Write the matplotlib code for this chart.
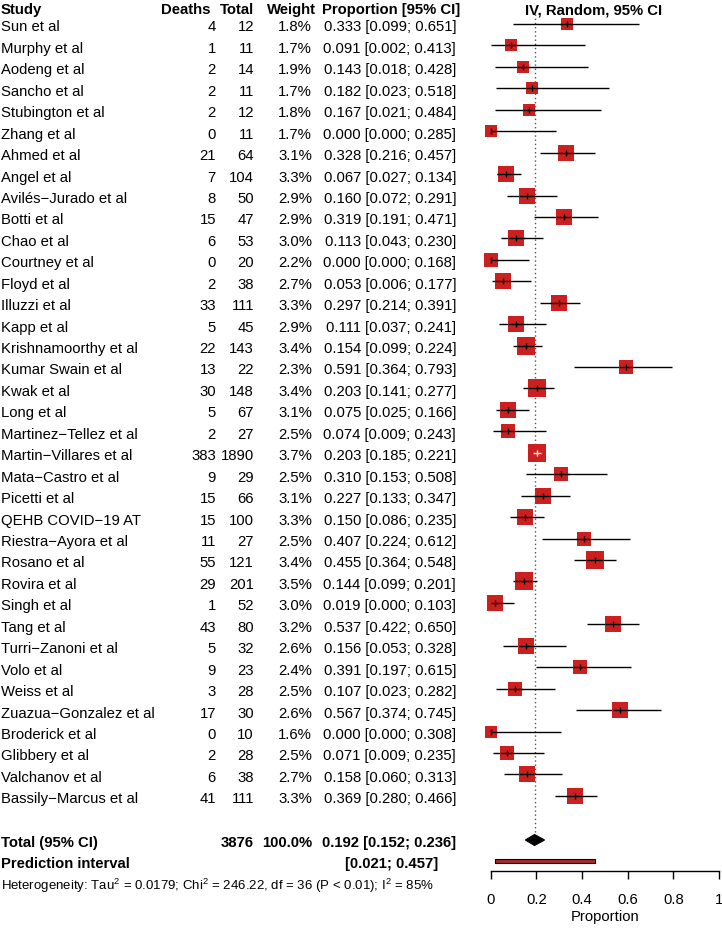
import numpy as np
import matplotlib
matplotlib.use("Agg")
import matplotlib.pyplot as plt
from matplotlib.patches import Polygon, Rectangle

plt.rcParams['font.family'] = ['Liberation Sans', 'DejaVu Sans']
plt.rcParams['mathtext.fontset'] = 'custom'
plt.rcParams['mathtext.rm'] = 'Liberation Sans'
plt.rcParams['mathtext.it'] = 'Liberation Sans:italic'

studies = ["Sun et al", "Murphy et al", "Aodeng et al", "Sancho et al", "Stubington et al",
           "Zhang et al", "Ahmed et al", "Angel et al", "Avilés\u2212Jurado et al", "Botti et al",
           "Chao et al", "Courtney et al", "Floyd et al", "Illuzzi et al", "Kapp et al",
           "Krishnamoorthy et al", "Kumar Swain et al", "Kwak et al", "Long et al",
           "Martinez\u2212Tellez et al", "Martin\u2212Villares et al", "Mata\u2212Castro et al",
           "Picetti et al", "QEHB COVID\u221219 AT", "Riestra\u2212Ayora et al", "Rosano et al",
           "Rovira et al", "Singh et al", "Tang et al", "Turri\u2212Zanoni et al", "Volo et al",
           "Weiss et al", "Zuazua\u2212Gonzalez et al", "Broderick et al", "Glibbery et al",
           "Valchanov et al", "Bassily\u2212Marcus et al"]
deaths = [4, 1, 2, 2, 2, 0, 21, 7, 8, 15, 6, 0, 2, 33, 5, 22, 13, 30, 5, 2, 383, 9, 15, 15,
          11, 55, 29, 1, 43, 5, 9, 3, 17, 0, 2, 6, 41]
totals = [12, 11, 14, 11, 12, 11, 64, 104, 50, 47, 53, 20, 38, 111, 45, 143, 22, 148, 67, 27,
          1890, 29, 66, 100, 27, 121, 201, 52, 80, 32, 23, 28, 30, 10, 28, 38, 111]
weights = [1.8, 1.7, 1.9, 1.7, 1.8, 1.7, 3.1, 3.3, 2.9, 2.9, 3.0, 2.2, 2.7, 3.3, 2.9, 3.4, 2.3,
           3.4, 3.1, 2.5, 3.7, 2.5, 3.1, 3.3, 2.5, 3.4, 3.5, 3.0, 3.2, 2.6, 2.4, 2.5, 2.6, 1.6,
           2.5, 2.7, 3.3]
prop = [0.333, 0.091, 0.143, 0.182, 0.167, 0.000, 0.328, 0.067, 0.160, 0.319, 0.113, 0.000,
        0.053, 0.297, 0.111, 0.154, 0.591, 0.203, 0.075, 0.074, 0.203, 0.310, 0.227, 0.150,
        0.407, 0.455, 0.144, 0.019, 0.537, 0.156, 0.391, 0.107, 0.567, 0.000, 0.071, 0.158,
        0.369]
lower = [0.099, 0.002, 0.018, 0.023, 0.021, 0.000, 0.216, 0.027, 0.072, 0.191, 0.043, 0.000,
         0.006, 0.214, 0.037, 0.099, 0.364, 0.141, 0.025, 0.009, 0.185, 0.153, 0.133, 0.086,
         0.224, 0.364, 0.099, 0.000, 0.422, 0.053, 0.197, 0.023, 0.374, 0.000, 0.009, 0.060,
         0.280]
upper = [0.651, 0.413, 0.428, 0.518, 0.484, 0.285, 0.457, 0.134, 0.291, 0.471, 0.230, 0.168,
         0.177, 0.391, 0.241, 0.224, 0.793, 0.277, 0.166, 0.243, 0.221, 0.508, 0.347, 0.235,
         0.612, 0.548, 0.201, 0.103, 0.650, 0.328, 0.615, 0.282, 0.745, 0.308, 0.235, 0.313,
         0.466]
total_n = 3876
total_weight = "100.0%"
pooled = 0.192
pooled_lo, pooled_hi = 0.152, 0.236
pred_lo, pred_hi = 0.021, 0.457
xticks = [0, 0.2, 0.4, 0.6, 0.8, 1]
xticklabels = ["0", "0.2", "0.4", "0.6", "0.8", "1"]

W, H = 722, 929
fig = plt.figure(figsize=(W / 100, H / 100), dpi=100)

ROW0, STEP = 25.0, 21.44          # pixel of first row, pixels per row
def prow(p):
    return (p - ROW0) / STEP

# text axes (x in pixels, y in row units)
at = fig.add_axes([0, 0, 1, 1])
at.set_xlim(0, W)
at.set_ylim(prow(H), prow(0))
at.axis('off')

FS = 10.7
n = len(studies)
rows = np.arange(n)
bo = 0.30  # baseline offset

hy = prow(8) + bo
at.text(1, hy, "Study", fontsize=FS, fontweight='bold', ha='left', va='baseline')
at.text(211, hy, "Deaths", fontsize=FS, fontweight='bold', ha='right', va='baseline')
at.text(254, hy, "Total", fontsize=FS, fontweight='bold', ha='right', va='baseline')
at.text(316, hy, "Weight", fontsize=FS, fontweight='bold', ha='right', va='baseline')
at.text(322, hy, "Proportion [95% CI]", fontsize=FS, fontweight='bold', ha='left', va='baseline')
at.text(594, hy, "IV, Random, 95% CI", fontsize=FS, fontweight='bold', ha='center', va='baseline')

for i in rows:
    y = i + bo
    at.text(1, y, studies[i], fontsize=FS, ha='left', va='baseline')
    at.text(216, y, f"{deaths[i]}", fontsize=FS, ha='right', va='baseline')
    at.text(254, y, f"{totals[i]}", fontsize=FS, ha='right', va='baseline')
    at.text(312, y, f"{weights[i]:.1f}%", fontsize=FS, ha='right', va='baseline')
    at.text(456, y, f"{prop[i]:.3f} [{lower[i]:.3f}; {upper[i]:.3f}]", fontsize=FS,
            ha='right', va='baseline')

ty = prow(841) + bo
at.text(1, ty, "Total (95% CI)", fontsize=FS, fontweight='bold', ha='left', va='baseline')
at.text(254, ty, f"{total_n}", fontsize=FS, fontweight='bold', ha='right', va='baseline')
at.text(312, ty, total_weight, fontsize=FS, fontweight='bold', ha='right', va='baseline')
at.text(456, ty, f"{pooled:.3f} [{pooled_lo:.3f}; {pooled_hi:.3f}]", fontsize=FS,
        fontweight='bold', ha='right', va='baseline')
py = prow(862) + bo
at.text(1, py, "Prediction interval", fontsize=FS, fontweight='bold', ha='left', va='baseline')
at.text(438, py, f"[{pred_lo:.3f}; {pred_hi:.3f}]", fontsize=FS, fontweight='bold',
        ha='right', va='baseline')
at.text(1, prow(885) + 0.25,
        r"Heterogeneity: Tau$^2$ = 0.0179; Chi$^2$ = 246.22, df = 36 (P < 0.01); I$^2$ = 85%",
        fontsize=9.5, ha='left', va='baseline')

# forest axes
x0px, x1px = 490.7, 719.0
axbot = 872.0
ax = fig.add_axes([x0px / W, (H - axbot) / H, (x1px - x0px) / W, axbot / H])
ax.patch.set_alpha(0)
ax.set_xlim(0, 1)
ax.set_ylim(prow(axbot), prow(0))
for s in ['top', 'right', 'left']:
    ax.spines[s].set_visible(False)
ax.spines['bottom'].set_bounds(0, 1)
ax.spines['bottom'].set_linewidth(1.0)
ax.set_yticks([])
ax.set_xticks(xticks)
ax.set_xticklabels(xticklabels, fontsize=FS)
ax.tick_params(axis='x', length=6, width=1.0, pad=9, direction='out')
ax.set_xlabel("Proportion", fontsize=FS, labelpad=2)

pxunit = (x1px - x0px)  # pixels per 1.0
sq_col = '#CC1F1F'
for i in rows:
    w = weights[i]
    side_px = 18.0 * np.sqrt(w / 3.7)
    half = side_px / 2 / pxunit
    inside = (lower[i] >= prop[i] - half) and (upper[i] <= prop[i] + half)
    lc = 'white' if inside else 'black'
    if not inside:
        ax.plot([lower[i], upper[i]], [i, i], color='black', lw=1.0, zorder=2,
                solid_capstyle='butt', clip_on=False)
    ax.plot([prop[i]], [i], marker='s', ms=side_px * 0.72, color=sq_col, mec=sq_col,
            mew=0, zorder=3, clip_on=False)
    if inside:
        ax.plot([lower[i], upper[i]], [i, i], color=lc, lw=1.0, zorder=4,
                solid_capstyle='butt', clip_on=False)
    else:
        ax.plot([max(lower[i], prop[i] - half), min(upper[i], prop[i] + half)], [i, i],
                color='black', lw=1.0, zorder=4, solid_capstyle='butt', clip_on=False)
    ax.plot([prop[i]], [i], marker='|', ms=4.0, mew=1.0, color=lc, zorder=5, clip_on=False)

# pooled diamond
dy = prow(841)
dh = 5.5 / STEP
ax.add_patch(Polygon([[pooled_lo, dy], [pooled, dy - dh], [pooled_hi, dy], [pooled, dy + dh]],
                     closed=True, facecolor='black', edgecolor='black', lw=0.8, zorder=4,
                     clip_on=False))
# reference dotted line
ax.plot([pooled, pooled], [prow(15), dy - dh], color='#555555', lw=1.0, ls=(0, (1, 2)),
        zorder=1, clip_on=False)
# prediction interval
ph = 4.5 / STEP
ax.add_patch(Rectangle((pred_lo, prow(862) - ph / 2), pred_hi - pred_lo, ph,
                       facecolor='#A52A2A', edgecolor='black', lw=0.8, zorder=4, clip_on=False))

fig.savefig("out.png", dpi=100)
